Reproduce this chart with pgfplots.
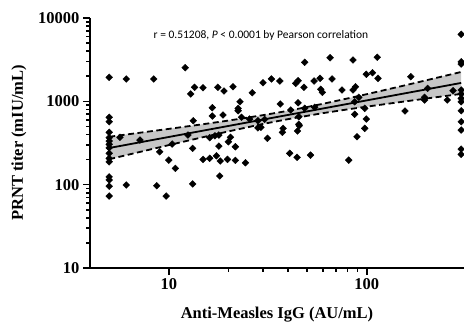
\documentclass[border=0pt]{standalone}
\usepackage{fontspec}
\setmainfont{Liberation Serif}
\newfontfamily\carlito{Carlito}
\usepackage{pgfplots}
\usepackage{pgfplotstable}
\pgfplotsset{compat=1.18}
\pgfplotstableread{
x y
5 1940
5 643
5 569
5 425
5 366
5 334
5 305
5 277
5 238
5 207
5 188
5 124
5 114
5 96
5 73
5.67 370
6.1 1855
6.1 99
7.15 343
8.4 1855
8.7 97
9.0 248
9.7 73
10 197
10.4 307
10.8 157
12.1 2530
12.5 394
12.9 1225
13.2 273
13.2 102
13.3 585
13.5 1473
14.9 1455
14.9 201
16.1 207
16.1 366
16.6 838
16.6 666
17.1 386
17.4 222
17.7 1473
17.9 394
17.9 290
18.1 127
18.2 192
18.8 686
19.0 1330
19.8 201
20 327
20.5 370
21.1 1497
21.7 285
21.7 196
22.4 824
22.4 771
22.9 988
23.3 643
24.4 183
25.6 613
26.4 1268
28.2 585
28.2 480
29.2 488
29.9 1671
30.5 608
31.5 360
33.0 1855
36.4 1754
36.6 929
37.5 425
37.8 474
40.8 238
41.3 787
43.8 1644
44.5 213
44.7 440
45 1766
45 961
45.4 653
45.4 530
45.6 509
48.2 1473
48.6 2940
48.6 824
52 226
54.2 1754
54.6 847
58.1 1888
58.6 1393
59.7 1282
65.3 3334
66.8 1855
75 1368
81.1 197
85.3 3133
85.3 1368
86.9 988
86.9 699
87.7 1497
89.3 376
91.2 1117
97.7 824
97.7 474
99.5 2110
99.5 613
107 2204
113 3375
114 1888
156 765
167 1973
196 1117
196 1037
203 1432
255 1037
273 1340
300 6370
300 2984
300 2803
300 1368
300 1225
300 1086
300 988
300 771
300 569
300 452
300 267
300 231
}\scatterdata
\pgfplotstableread{
x up lo
5 375.6 201.9
7 417.2 244.2
10 467.0 298.4
15 532.5 372.9
20 587.2 435.7
30 683.4 536.1
40 769.1 611.0
60 932.8 721.5
80 1082.9 800.6
100 1218.4 863.3
150 1522.2 985.2
200 1788.9 1080.0
300 2251.7 1228.2
}\bandtable
\begin{document}
\begin{tikzpicture}[x=1pt,y=1pt]
\path[use as bounding box] (0,0) rectangle (464,324);
\begin{axis}[
  at={(90pt,56pt)}, anchor=south west,
  scale only axis, width=374pt, height=250pt,
  xmode=log, ymode=log,
  xmin=4, xmax=310, ymin=10, ymax=10000,
  axis x line*=bottom, axis y line*=left,
  axis line style={line width=1.8pt},
  every axis plot/.append style={},
  xtick={10,100}, xticklabels={10,100},
  ytick={10,100,1000,10000}, yticklabels={10,100,1000,10000},
  tick align=outside,
  major tick length=7pt, minor tick length=4pt,
  every tick/.style={black, line width=1.6pt},
  ticklabel style={font=\bfseries\fontsize{16.5}{18}\selectfont},
  xlabel={Anti-Measles IgG (AU/mL)},
  ylabel={PRNT titer (mIU/mL)},
  label style={font=\bfseries\fontsize{16.5}{18}\selectfont},
  xlabel style={at={(axis description cs:0.5,-0.204)}, anchor=base},
  ylabel style={at={(axis description cs:-0.19,0.5)}, anchor=center},
  clip=false,
]
\addplot[fill=black!22, draw=none] coordinates {
(5,375.6) (7,417.2) (10,467.0) (15,532.5) (20,587.2) (30,683.4) (40,769.1) (60,932.8) (80,1082.9) (100,1218.4) (150,1522.2) (200,1788.9) (300,2251.7)
(300,1228.2) (200,1080.0) (150,985.2) (100,863.3) (80,800.6) (60,721.5) (40,611.0) (30,536.1) (20,435.7) (15,372.9) (10,298.4) (7,244.2) (5,201.9)
} -- cycle;
\addplot[black, line width=1.8pt, dash pattern=on 6pt off 3.5pt] table[x=x,y=up] {\bandtable};
\addplot[black, line width=1.8pt, dash pattern=on 6pt off 3.5pt] table[x=x,y=lo] {\bandtable};
\addplot[black, line width=1.8pt] coordinates {(5,275.4) (300,1663)};
\addplot[only marks, mark=square*, mark size=2.4pt, mark options={rotate=45, fill=black, draw=black}] table[x=x,y=y] {\scatterdata};
\node[font=\carlito\fontsize{11.5}{13}\selectfont, anchor=center] at (axis description cs:0.457,0.932) {r = 0.51208, \textit{P} < 0.0001 by Pearson correlation};
\end{axis}
\end{tikzpicture}
\end{document}
